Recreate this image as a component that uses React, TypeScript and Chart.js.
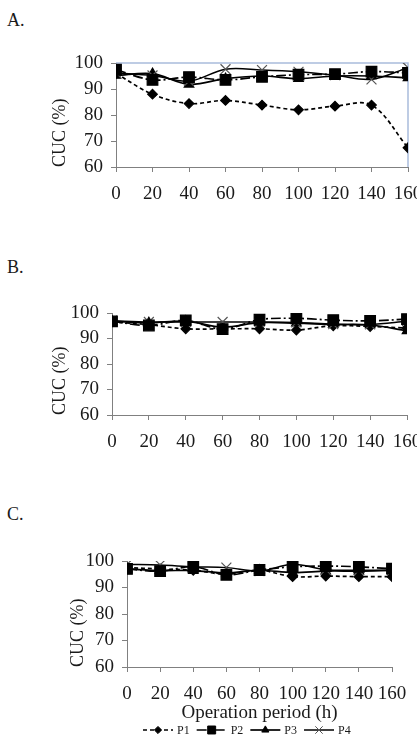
import React, { useEffect, useRef } from 'react';
import { Chart, registerables } from 'chart.js';
import { drawPoint } from 'chart.js/helpers';

Chart.register(...registerables);

// ---------- data ----------
const hours = [0, 20, 40, 60, 80, 100, 120, 140, 160];
const seriesNames = ['P1', 'P2', 'P3', 'P4'];
const yTickValues = [60, 70, 80, 90, 100];
const panelLabels = ['A.', 'B.', 'C.'];
const yTitle = 'CUC (%)';
const xTitle = 'Operation period (h)';

const aP1 = [96, 88, 84.4, 85.6, 83.8, 82, 83.4, 83.8, 67.4];
const aP2 = [97.4, 93.5, 94.6, 93.5, 94.7, 95.5, 95.7, 96.7, 96.2];
const aP3 = [95.2, 95.9, 91.8, 94, 95, 94, 95, 95, 94.3];
const aP4 = [96.2, 95.2, 93, 97.6, 97.3, 96.6, 95.3, 93.7, 98.2];

const bP1 = [96.5, 95.4, 93.8, 93.8, 93.8, 93.3, 95, 94.7, 94.1];
const bP2 = [96.7, 95.1, 97.1, 93.7, 97.4, 97.9, 97.2, 96.9, 97.6];
const bP3 = [96.8, 96.2, 96.8, 94.5, 96.2, 96, 95.5, 95.3, 93];
const bP4 = [97, 96.5, 96.5, 96.5, 96.5, 96.3, 95.6, 95.5, 96.8];

const cP1 = [97.5, 97, 96.5, 95, 96.5, 94.1, 94.3, 94.1, 94.1];
const cP2 = [97, 96.2, 97.8, 94.8, 96.6, 97.8, 98.1, 97.8, 97.1];
const cP3 = [97, 96.4, 96.4, 95.5, 96.5, 95.6, 96.2, 96.2, 96.5];
const cP4 = [98.7, 98.5, 97.8, 97.5, 96.2, 98.8, 96.7, 96.5, 96.6];

// ---------- styles / layout ----------
const FONT = '"Liberation Serif", "Times New Roman", serif';
const AXIS = '#808080';
const TEXT = '#1a1a1a';
const CANVAS_W = 440;

const seriesStyles = [
  { dash: [4, 3], pointStyle: 'rectRot', radius: 4.8, width: 1.7, pointColor: '#000', order: 3 },
  { dash: [10, 3, 2, 3], pointStyle: 'rect', radius: 7.5, width: 1.7, pointColor: '#000', order: 0 },
  { dash: [], pointStyle: 'triangle', radius: 5.5, width: 1.7, pointColor: '#000', order: 2 },
  { dash: [], pointStyle: 'crossRot', radius: 7, width: 1.5, pointColor: '#555', order: 1 },
];

const panels = [
  { label: panelLabels[0], labelTop: 9, values: [aP1, aP2, aP3, aP4], top: 40, height: 180, plotLeft: 116, plotRight: 408, plotTop: 63, plotBottom: 167, bottomPad: 0, titlePad: 49, frame: '#a9bcdc', showX: false, legend: false },
  { label: panelLabels[1], labelTop: 256, values: [bP1, bP2, bP3, bP4], top: 290, height: 180, plotLeft: 112, plotRight: 407, plotTop: 313, plotBottom: 415, bottomPad: 0, titlePad: 49, frame: '', showX: false, legend: false },
  { label: panelLabels[2], labelTop: 503, values: [cP1, cP2, cP3, cP4], top: 540, height: 207, plotLeft: 127, plotRight: 392, plotTop: 561, plotBottom: 667, bottomPad: 23, titlePad: 67, frame: '', showX: true, legend: true },
];

const framePlugin = {
  id: 'frame',
  beforeDatasetsDraw(chart: any, _args: any, opts: any) {
    if (!opts || !opts.color) return;
    const { ctx, chartArea } = chart;
    ctx.save();
    ctx.strokeStyle = opts.color;
    ctx.lineWidth = 1.5;
    ctx.beginPath();
    ctx.moveTo(chartArea.left, chartArea.top);
    ctx.lineTo(chartArea.right, chartArea.top);
    ctx.lineTo(chartArea.right, chartArea.bottom);
    ctx.stroke();
    ctx.restore();
  },
};

const lineLegendPlugin = {
  id: 'lineLegend',
  afterDraw(chart: any, _args: any, opts: any) {
    if (!opts || !opts.show) return;
    const { ctx, chartArea } = chart;
    ctx.save();
    ctx.font = `12px ${FONT}`;
    let x = chartArea.left + opts.offsetX;
    const y = chartArea.bottom + opts.offsetY;
    chart.data.datasets.forEach((ds: any) => {
      const len = opts.lineLength;
      ctx.strokeStyle = '#000';
      ctx.lineWidth = ds.borderWidth;
      ctx.setLineDash(ds.borderDash || []);
      ctx.beginPath();
      ctx.moveTo(x, y);
      ctx.lineTo(x + len, y);
      ctx.stroke();
      ctx.setLineDash([]);
      ctx.fillStyle = ds.pointBackgroundColor;
      ctx.strokeStyle = ds.pointBorderColor;
      ctx.lineWidth = 1;
      drawPoint(ctx, { pointStyle: ds.pointStyle, radius: ds.pointRadius * 0.75, borderWidth: 1, rotation: 0 } as any, x + len / 2, y);
      ctx.fillStyle = TEXT;
      ctx.textBaseline = 'middle';
      ctx.textAlign = 'left';
      ctx.fillText(ds.label, x + len + 4, y + 1);
      x += len + 4 + ctx.measureText(ds.label).width + opts.gap;
    });
    ctx.restore();
  },
};

function makeConfig(p: any) {
  const datasets = p.values.map((vals: number[], i: number) => {
    const s = seriesStyles[i];
    return {
      label: seriesNames[i],
      data: hours.map((h, j) => ({ x: h, y: vals[j] })),
      borderColor: '#000',
      backgroundColor: '#000',
      borderWidth: s.width,
      borderDash: s.dash,
      pointStyle: s.pointStyle,
      pointRadius: s.radius,
      pointBackgroundColor: s.pointColor,
      pointBorderColor: s.pointColor,
      pointBorderWidth: 1.2,
      tension: 0.35,
      order: s.order,
      fill: false,
    };
  });
  const tickFont = { family: FONT, size: 19 };
  return {
    type: 'line',
    data: { datasets },
    plugins: [framePlugin, lineLegendPlugin],
    options: {
      animation: false,
      responsive: false,
      maintainAspectRatio: false,
      devicePixelRatio: 1,
      layout: {
        padding: { left: 0, right: CANVAS_W - p.plotRight, top: p.plotTop - p.top, bottom: p.bottomPad },
      },
      plugins: {
        legend: { display: false },
        tooltip: { enabled: false },
        frame: { color: p.frame },
        lineLegend: { show: p.legend, offsetX: 16, offsetY: 63, lineLength: 30, gap: 7 },
      },
      scales: {
        x: {
          type: 'linear',
          min: hours[0],
          max: hours[hours.length - 1],
          ticks: { stepSize: 20, color: TEXT, font: tickFont, padding: 11, maxRotation: 0, autoSkip: false },
          grid: { drawOnChartArea: false, tickLength: 5, color: AXIS },
          border: { color: AXIS, width: 1 },
          title: { display: p.showX, text: xTitle, color: TEXT, font: { family: FONT, size: 19 }, padding: { top: 0, bottom: 0 } },
          afterFit(s: any) { s.height = p.top + p.height - p.bottomPad - p.plotBottom; },
        },
        y: {
          type: 'linear',
          min: yTickValues[0],
          max: yTickValues[yTickValues.length - 1],
          afterBuildTicks(s: any) { s.ticks = yTickValues.map((v) => ({ value: v })); },
          ticks: { color: TEXT, font: tickFont, padding: 8, autoSkip: false },
          grid: { drawOnChartArea: false, tickLength: 5, color: AXIS },
          border: { color: AXIS, width: 1 },
          title: { display: true, text: yTitle, align: 'start', color: TEXT, font: { family: FONT, size: 18 }, padding: { top: p.titlePad, bottom: 0 } },
          afterFit(s: any) { s.width = p.plotLeft; },
        },
      },
    },
  };
}

function Panel({ p }: { p: any }) {
  const ref = useRef<HTMLCanvasElement>(null);
  useEffect(() => {
    if (!ref.current) return;
    const chart = new Chart(ref.current, makeConfig(p) as any);
    return () => chart.destroy();
  }, [p]);
  return (
    <>
      <div style={{ position: 'absolute', left: 7, top: p.labelTop, font: `18px ${FONT}`, color: TEXT, lineHeight: '22px' }}>{p.label}</div>
      <canvas
        ref={ref}
        width={CANVAS_W}
        height={p.height}
        style={{ position: 'absolute', left: 0, top: p.top, width: CANVAS_W, height: p.height }}
      />
    </>
  );
}

export default function App() {
  return (
    <div style={{ position: 'absolute', left: 0, top: 0, width: 417, height: 747, overflow: 'hidden', background: '#fff' }}>
      {panels.map((p) => (
        <Panel key={p.label} p={p} />
      ))}
    </div>
  );
}
